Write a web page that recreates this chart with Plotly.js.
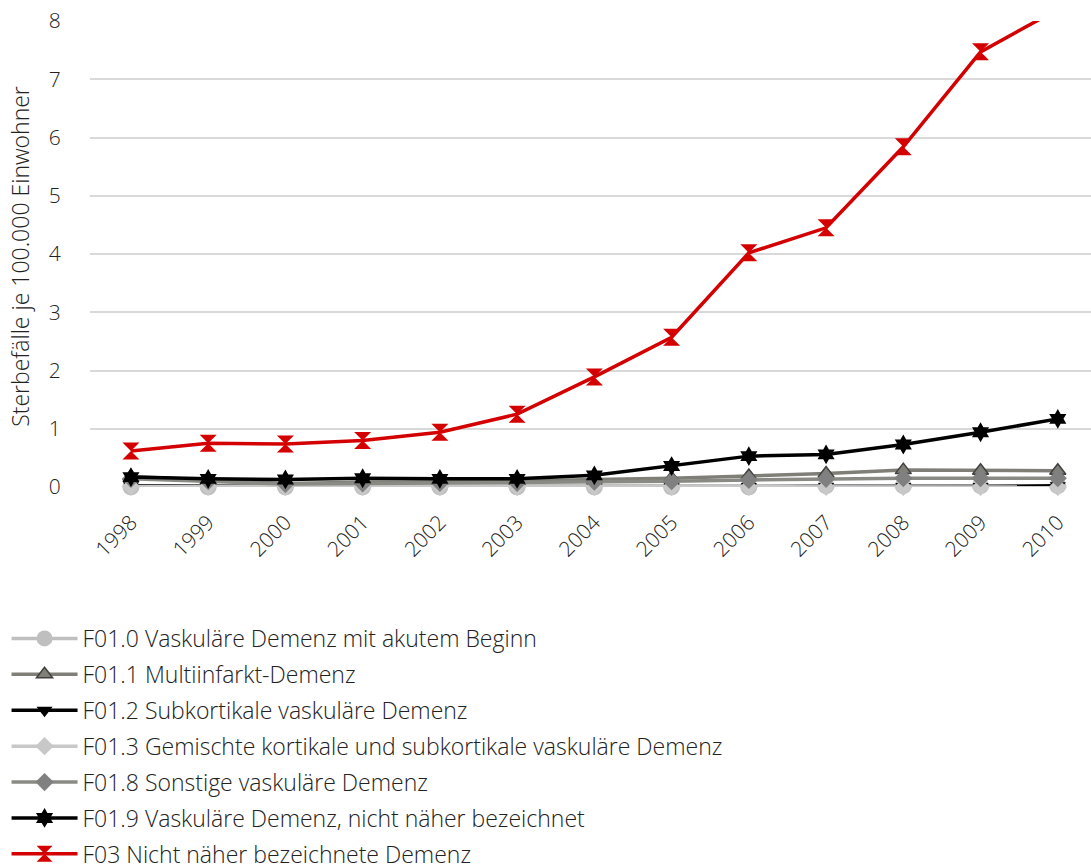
<!DOCTYPE html>
<html><head><meta charset="utf-8">
<script src="https://cdn.plot.ly/plotly-3.0.1.min.js"></script>
<style>body{margin:0;background:#fff}#chart{width:1091px;height:864px}</style>
</head><body><div id="chart"></div>
<script>
const years = ['1998','1999','2000','2001','2002','2003','2004','2005','2006','2007','2008','2009','2010'];
const seriesNames = [
  'F01.0 Vaskuläre Demenz mit akutem Beginn',
  'F01.1 Multiinfarkt-Demenz',
  'F01.2 Subkortikale vaskuläre Demenz',
  'F01.3 Gemischte kortikale und subkortikale vaskuläre Demenz',
  'F01.8 Sonstige vaskuläre Demenz',
  'F01.9 Vaskuläre Demenz, nicht näher bezeichnet',
  'F03 Nicht näher bezeichnete Demenz'
];
const yTitle = 'Sterbefälle je 100.000 Einwohner';
const f010 = [0.00,0.00,0.00,0.00,0.00,0.00,0.00,0.00,0.00,0.02,0.02,0.02,0.02];
const f011 = [0.18,0.12,0.06,0.08,0.09,0.10,0.13,0.15,0.19,0.23,0.29,0.28,0.28];
const f012 = [0.02,0.01,0.01,0.01,0.01,0.00,0.01,0.01,0.01,0.01,0.01,0.01,0.02];
const f013 = [0.01,0.01,0.00,0.00,0.00,0.00,0.00,0.00,0.00,0.00,0.00,0.00,0.00];
const f018 = [0.14,0.10,0.05,0.06,0.07,0.07,0.09,0.10,0.12,0.14,0.15,0.15,0.15];
const f019 = [0.17,0.14,0.13,0.15,0.14,0.14,0.20,0.36,0.53,0.56,0.73,0.94,1.17];
const f03  = [0.62,0.75,0.74,0.80,0.94,1.25,1.89,2.57,4.02,4.45,5.84,7.47,8.20];

const styles = [
  {c:'#bfbfbf', sym:'circle', size:17, lc:'#bfbfbf', lw:0},
  {c:'#808078', sym:'triangle-up', size:14, lc:'#404040', lw:1.5},
  {c:'#000000', sym:'triangle-down', size:14, lc:'#000000', lw:0},
  {c:'#c8c8c8', sym:'diamond', size:14, lc:'#c8c8c8', lw:0},
  {c:'#808080', sym:'diamond', size:14, lc:'#808080', lw:0},
  {c:'#000000', sym:'hexagram', size:15, lc:'#000000', lw:0},
  {c:'#d40000', sym:'hourglass', size:17, lc:'#d40000', lw:0}
];
const values = [f010,f011,f012,f013,f018,f019,f03];
const lineColors = ['#bfbfbf','#7f7f77','#000000','#c8c8c8','#8a8a84','#000000','#d40000'];

const traces = values.map((v,i)=>({
  x: years, y: v, name: seriesNames[i], type:'scatter', mode:'lines+markers',
  legendgroup: 'g'+i,
  line:{color: lineColors[i], width: 3.5},
  marker:{symbol: styles[i].sym, size: styles[i].size, color: styles[i].c,
          line:{color: styles[i].lc, width: styles[i].lw}},
  cliponaxis: i===6
}));

const FONT = 'Open Sans, DejaVu Sans, sans-serif';
const tf = {family:FONT, size:21, color:'#222', weight:300};
const bigf = {family:FONT, size:23, color:'#222', weight:300};
const layout = {
  width:1091, height:864,
  margin:{l:90, r:0, t:21, b:377, autoexpand:false},
  paper_bgcolor:'#fff', plot_bgcolor:'#fff',
  font:tf,
  showlegend:true,
  xaxis:{type:'category', range:[-0.53,12.43], showgrid:false, zeroline:false, showline:false,
         ticks:'outside', ticklen:14, tickcolor:'rgba(0,0,0,0)', tickangle:-45, tickfont:tf,
         automargin:false},
  yaxis:{range:[0,8], dtick:1, showgrid:true, gridcolor:'#d9d9d9', gridwidth:2, zeroline:false,
         showline:false, ticks:'outside', ticklen:24, tickcolor:'rgba(0,0,0,0)', tickfont:tf,
         automargin:false},
  annotations:[{text:yTitle, xref:'paper', yref:'paper', x:-70/1001, y:0.494,
                xanchor:'center', yanchor:'middle', textangle:-90, showarrow:false, font:bigf}],
  legend:{orientation:'v', xref:'container', yref:'container', x:0.006, xanchor:'left',
          y:1-617/864, yanchor:'top', font:bigf, itemwidth:66,
          tracegroupgap:3, bgcolor:'rgba(0,0,0,0)'}
};
Plotly.newPlot('chart', traces, layout, {displayModeBar:false});
</script></body></html>
